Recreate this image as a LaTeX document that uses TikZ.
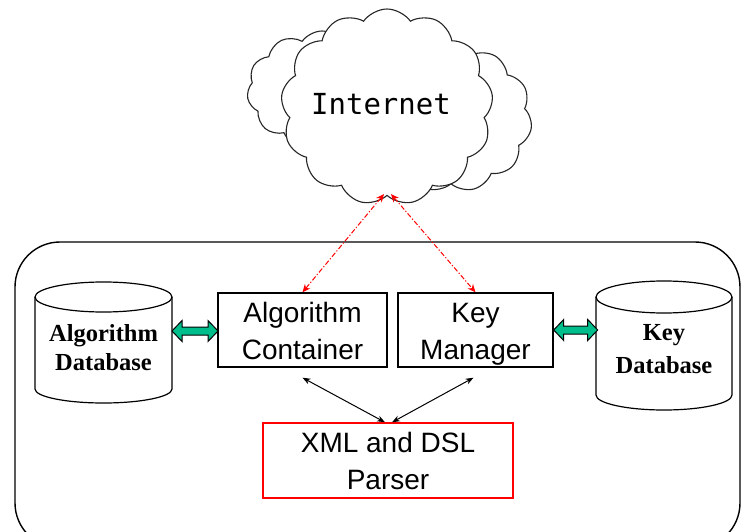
\documentclass[tikz,border=0pt]{standalone}
\usepackage{fontspec}
\setmainfont{Liberation Sans}
\newfontfamily\dbfont{Liberation Serif}
\newfontfamily\monofont{DejaVu Sans Mono}
\usetikzlibrary{shapes.symbols,arrows.meta,calc}
\definecolor{arrowgreen}{RGB}{0,190,140}
% invisible rules fixing the height of the first line and the depth of the last
\newcommand{\tophold}{\rule{0pt}{29pt}}
\newcommand{\bothold}[1]{\rule[-#1]{0pt}{#1}}
\tikzset{
  cloudsty/.style={cloud, cloud ignores aspect, draw=black!85, fill=white, line width=1.1pt, cloud puffs=11, cloud puff arc=110, inner sep=0pt},
  boxsty/.style={draw=black, line width=1.4pt, fill=white, align=center, inner sep=0pt,
    font=\fontsize{28}{37}\selectfont},
  dbtext/.style={align=center, inner sep=0pt, font=\dbfont\fontsize{24.5}{29}\selectfont\bfseries},
  cylsty/.style={draw=black, line width=1.2pt},
  netlink/.style={red, line width=1pt, dash pattern=on 5pt off 2pt on 1.2pt off 2pt,
    {Stealth[length=8pt,width=7pt]}-{Stealth[length=8pt,width=7pt]}},
  parselink/.style={black, line width=1pt,
    {Stealth[length=8pt,width=6pt]}-{Stealth[length=8pt,width=6pt]}},
  fatlink/.style={draw=black, line width=1pt, fill=arrowgreen, line join=miter},
}
\begin{document}
\begin{tikzpicture}[x=1pt, y=-1pt]
\useasboundingbox (0,0) rectangle (742,532);
\clip (0,0) rectangle (742,532);

% outer enclosure
\draw[line width=1.4pt, rounded corners=45pt] (15,242) rectangle (740,548);

% Internet cloud, built from overlapping puffs
\node[cloudsty, minimum width=150pt, minimum height=118pt] (cloudL) at (322,90) {};
\node[cloudsty, minimum width=162pt, minimum height=148pt] (cloudR) at (451,118) {};
\node[cloudsty, cloud puffs=13, minimum width=212pt, minimum height=196pt] (inet) at (387,107) {};
\node[inner sep=0pt, font=\monofont\fontsize{29}{30}\selectfont] (inetlbl) at (381,104) {Internet};

% components
\node[boxsty, minimum width=169pt, minimum height=74pt] (ac) at (302.5,330)
  {\tophold Algorithm\\Container\bothold{8pt}};
\node[boxsty, minimum width=155pt, minimum height=74pt] (km) at (475.5,330)
  {\tophold Key\\Manager\bothold{8pt}};
\node[boxsty, draw=red, minimum width=250pt, minimum height=75pt] (xp) at (388,460.5)
  {\tophold XML and DSL\\Parser\bothold{9pt}};

% databases
\draw[cylsty] (35,297) -- (35,389) arc[start angle=180, end angle=360, x radius=68.5pt, y radius=14pt] -- (172,297);
\draw[cylsty] (103.5,297) ellipse [x radius=68.5pt, y radius=15pt];
\node[dbtext] (adb) at (103.5,348) {Algorithm\\Database};
\coordinate (adbE) at (172,331);

\draw[cylsty] (596,297) -- (596,395) arc[start angle=180, end angle=360, x radius=68pt, y radius=15pt] -- (732,297);
\draw[cylsty] (664,297) ellipse [x radius=68pt, y radius=16pt];
\node[dbtext, font=\dbfont\fontsize{24.5}{33}\selectfont\bfseries] (kdb) at (664,349) {Key\\Database};

% database links
\draw[fatlink, shift={(adbE)}] (0,0) -- (10,-10.5) -- (10,-4) -- (36,-4) -- (36,-10.5) -- (46,0)
  -- (36,10.5) -- (36,4) -- (10,4) -- (10,10.5) -- cycle;
\draw[fatlink, shift={(km.east)}] (0,0) -- (10,-10.5) -- (10,-4) -- (34,-4) -- (34,-10.5) -- (44,0)
  -- (34,10.5) -- (34,4) -- (10,4) -- (10,10.5) -- cycle;

% network links
\draw[netlink] ($(inet.south)+(-3,-2)$) -- (ac.north);
\draw[netlink] ($(inet.south)+(4,-2)$) -- (km.north);

% parser links
\draw[parselink] ($(ac.south)+(0,10)$) -- ($(xp.north)+(-3,0)$);
\draw[parselink] ($(km.south)+(-2,10)$) -- ($(xp.north)+(4,0)$);
\end{tikzpicture}
\end{document}
